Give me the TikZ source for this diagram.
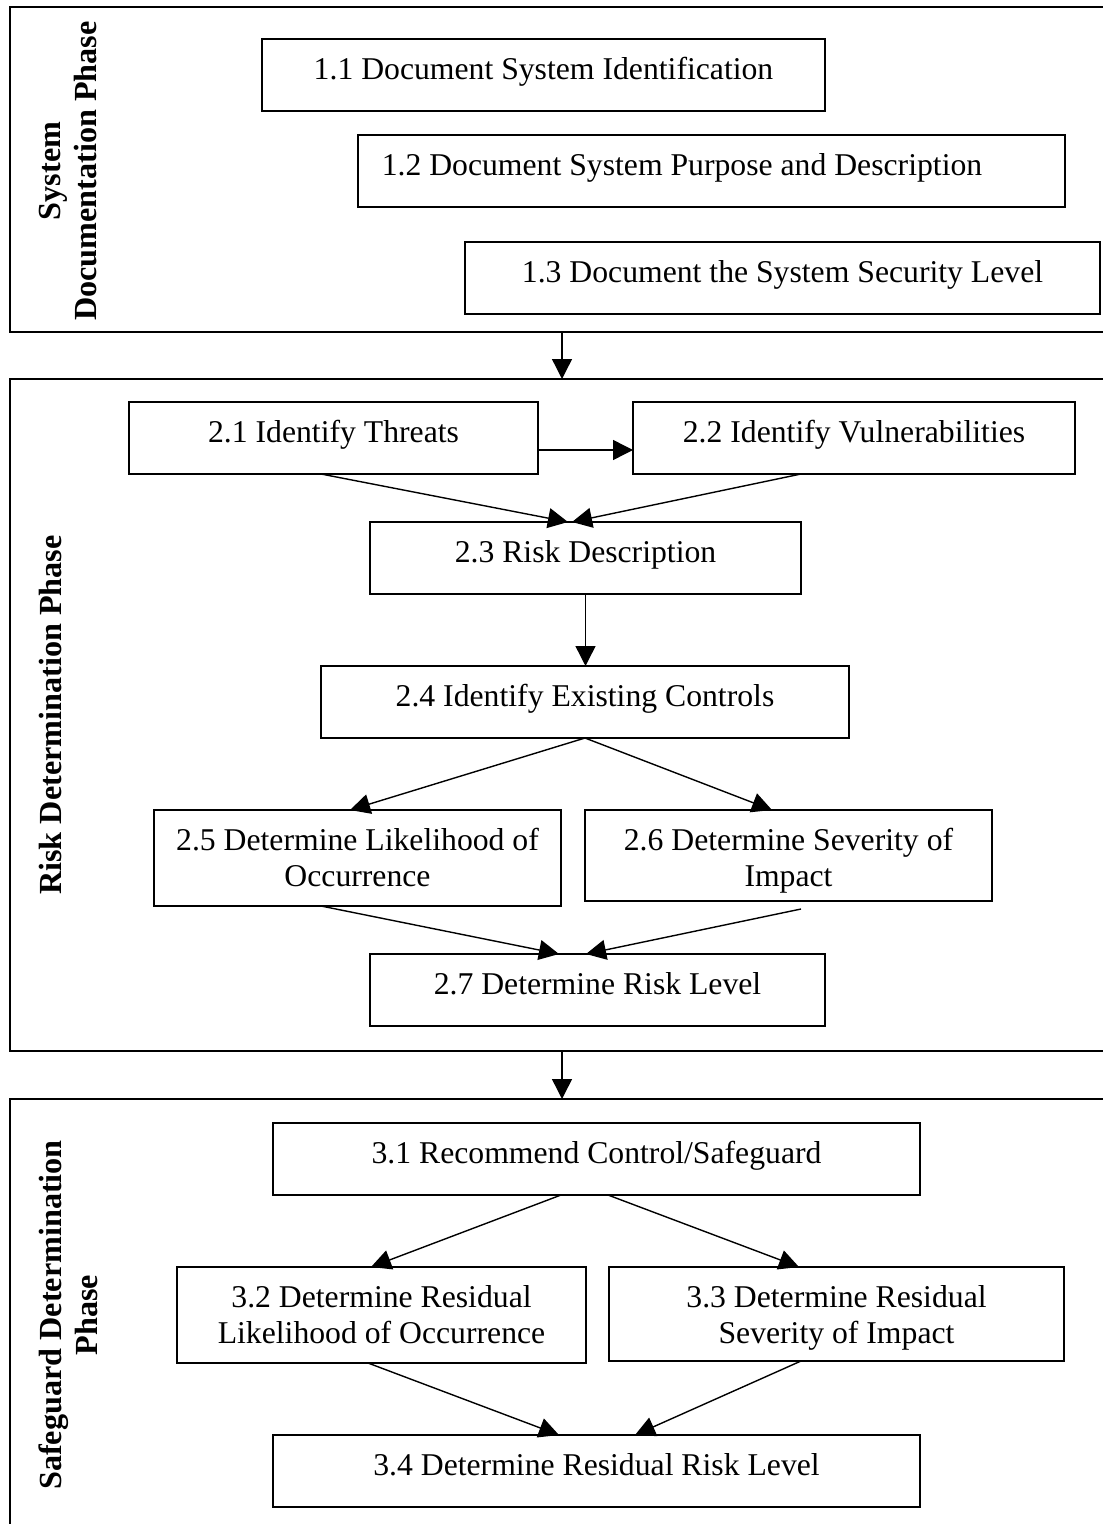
\documentclass[tikz,border=0pt]{standalone}
\usepackage{fontspec}
\setmainfont{Liberation Serif}
\usetikzlibrary{arrows.meta,calc}
\tikzset{
  framest/.style={draw=black, line width=0.9pt, inner sep=0pt, outer sep=0pt},
  boxst/.style={draw=black, line width=0.75pt, inner sep=0pt, outer sep=0pt, fill=white},
  lbl/.style={anchor=base, inner sep=0pt, font=\fontsize{15.85}{18.25}\selectfont},
  vlab/.style={rotate=90, align=center, inner sep=0pt, font=\fontsize{16.1}{18}\selectfont\bfseries},
  arr/.style={draw=black, line width=0.7pt, -{Triangle[length=10pt,width=10pt]}}
}
\newcommand\mkbox[5]{%
  \node[boxst, minimum width={(#4-#2)*0.5pt}, minimum height={(#5-#3)*0.5pt}] (#1) at ({(#2+#4)/2},{(#3+#5)/2}) {};}
\begin{document}
\begin{tikzpicture}[x=0.5pt,y=-0.5pt]
\useasboundingbox (0,0) rectangle (1102,1524);
% phase frames
\node[framest, minimum width={1100*0.5pt}, minimum height={325*0.5pt}] (f1) at (560,169.5) {};
\node[framest, minimum width={1100*0.5pt}, minimum height={672*0.5pt}] (f2) at (560,715) {};
\node[framest, minimum width={1100*0.5pt}, minimum height={441*0.5pt}] (f3) at (560,1319.5) {};
% phase labels
\node[vlab] (l1) at (68,171) {System\\Documentation Phase};
\node[vlab] (l2) at (50,715) {Risk Determination Phase};
\node[vlab] (l3) at (68,1315) {Safeguard Determination\\Phase};
% boxes
\mkbox{b11}{262}{39}{825}{111}
\mkbox{b12}{358}{135}{1065}{207}
\mkbox{b13}{465}{242}{1100}{314}
\mkbox{b21}{129}{402}{538}{474}
\mkbox{b22}{633}{402}{1075}{474}
\mkbox{b23}{370}{522}{801}{594}
\mkbox{b24}{321}{666}{849}{738}
\mkbox{b25}{154}{810}{561}{906}
\mkbox{b26}{585}{810}{992}{901}
\mkbox{b27}{370}{954}{825}{1026}
\mkbox{b31}{273}{1123}{920}{1195}
\mkbox{b32}{177}{1267}{586}{1363}
\mkbox{b33}{609}{1267}{1064}{1361}
\mkbox{b34}{273}{1435}{920}{1507}
% texts
\node[lbl] (t11) at ($(b11.north)+(0,41)$) {1.1 Document System Identification};
\node[lbl] (t12) at ($(b12.north)+(-29.5,41)$) {1.2 Document System Purpose and Description};
\node[lbl] (t13) at ($(b13.north)+(0,41)$) {1.3 Document the System Security Level};
\node[lbl] (t21) at ($(b21.north)+(0,40)$) {2.1 Identify Threats};
\node[lbl] (t22) at ($(b22.north)+(0,40)$) {2.2 Identify Vulnerabilities};
\node[lbl] (t23) at ($(b23.north)+(0,40)$) {2.3 Risk Description};
\node[lbl] (t24) at ($(b24.north)+(0,40)$) {2.4 Identify Existing Controls};
\node[lbl] (t25) at ($(b25.north)+(0,40)$) {\begin{tabular}[t]{@{}c@{}}2.5 Determine Likelihood of\\Occurrence\end{tabular}};
\node[lbl] (t26) at ($(b26.north)+(0,40)$) {\begin{tabular}[t]{@{}c@{}}2.6 Determine Severity of\\Impact\end{tabular}};
\node[lbl] (t27) at ($(b27.north)+(0,40)$) {2.7 Determine Risk Level};
\node[lbl] (t31) at ($(b31.north)+(0,40)$) {3.1 Recommend Control/Safeguard};
\node[lbl] (t32) at ($(b32.north)+(0,40)$) {\begin{tabular}[t]{@{}c@{}}3.2 Determine Residual\\Likelihood of Occurrence\end{tabular}};
\node[lbl] (t33) at ($(b33.north)+(0,40)$) {\begin{tabular}[t]{@{}c@{}}3.3 Determine Residual\\Severity of Impact\end{tabular}};
\node[lbl] (t34) at ($(b34.north)+(0,40)$) {3.4 Determine Residual Risk Level};
% connectors
\draw[arr] ($(f1.south)+(2,0)$) -- ($(f2.north)+(2,0)$);
\draw[arr] ($(b21.east)+(0,12)$) -- ($(b22.west)+(0,12)$);
\draw[arr] ($(b21.south)+(-12.5,0)$) -- ($(b23.north)+(-17.5,0)$);
\draw[arr] ($(b22.south)+(-53,0)$) -- ($(b23.north)+(-13.5,0)$);
\draw[arr] (b23.south) -- (b23.south |- b24.north);
\draw[arr] (b24.south) -- ($(b25.north)+(-7.5,0)$);
\draw[arr] (b24.south) -- ($(b26.north)+(-16.5,0)$);
\draw[arr] ($(b25.south)+(-36.5,0)$) -- ($(b27.north)+(-38.5,0)$);
\draw[arr] ($(b26.south)+(12.5,8)$) -- ($(b27.north)+(-11.5,0)$);
\draw[arr] ($(f2.south)+(2,0)$) -- ($(f3.north)+(2,0)$);
\draw[arr] ($(b31.south)+(-35.5,0)$) -- ($(b32.north)+(-10.5,0)$);
\draw[arr] ($(b31.south)+(11.5,0)$) -- ($(b33.north)+(-37.5,0)$);
\draw[arr] ($(b32.south)+(-13.5,0)$) -- ($(b34.north)+(-37.5,0)$);
\draw[arr] ($(b33.south)+(-35.5,0)$) -- ($(b34.north)+(38.5,0)$);
\end{tikzpicture}
\end{document}
